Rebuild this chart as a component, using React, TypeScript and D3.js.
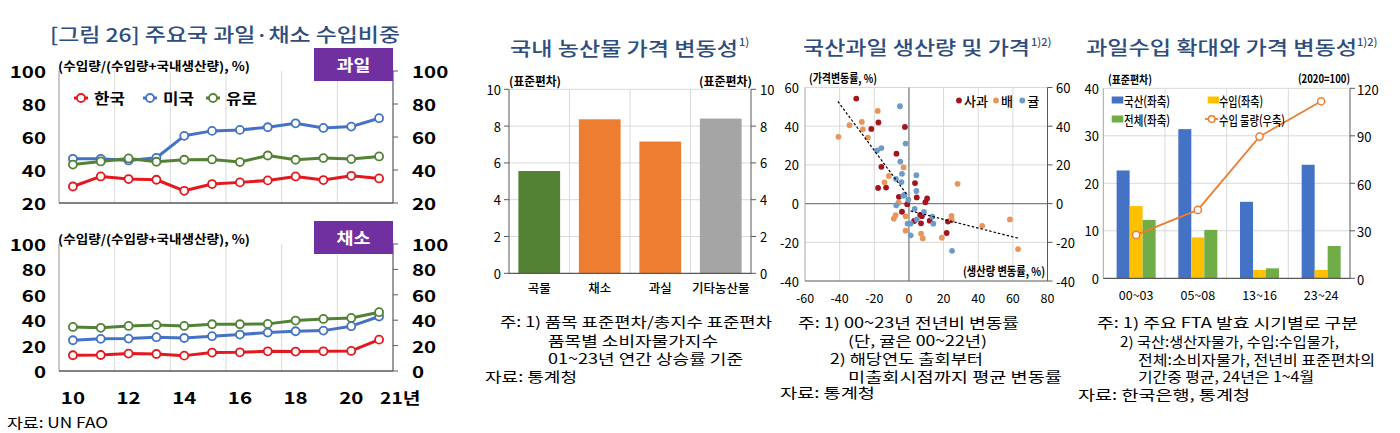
import React from "react";
import * as d3 from "d3";

// ---------- Panel 1 data ----------
const years = ["10", "11", "12", "13", "14", "15", "16", "17", "18", "19", "20", "21"];
const countries = ["한국", "미국", "유로"];
const countryColors = ["#E3191F", "#4472C4", "#548235"];
const fruitKorea = [30, 36.1, 34.5, 34.1, 27.4, 31.5, 32.5, 33.7, 36.1, 33.9, 36.5, 34.9];
const fruitUS = [46.8, 46.8, 45.8, 47.4, 60.7, 63.7, 64.3, 65.9, 68.3, 65.5, 66.3, 71.4];
const fruitEuro = [43.3, 45.2, 47, 45, 46.2, 46.4, 44.8, 48.8, 46.2, 47.2, 46.6, 48.2];
const vegKorea = [12.4, 12.6, 13.7, 13.4, 12.1, 14.5, 14.7, 15.5, 15.3, 15.5, 15.8, 24.7];
const vegUS = [24.2, 25.3, 25.5, 26.6, 26, 27.4, 28.7, 30.3, 31.3, 31.8, 35.3, 42.9];
const vegEuro = [34.7, 34, 35.5, 36.3, 35.5, 36.8, 36.8, 37.1, 39.7, 41, 41.8, 46.3];
const topTicks = [20, 40, 60, 80, 100];
const botTicks = [0, 20, 40, 60, 80, 100];

// ---------- Panel 2 data ----------
const priceCats = ["곡물", "채소", "과실", "기타농산물"];
const priceStd = [5.56, 8.37, 7.16, 8.41];
const priceColors = ["#548235", "#ED7D31", "#ED7D31", "#A5A5A5"];
const stdTicks = [0, 2, 4, 6, 8, 10];

// ---------- Panel 3 data (production change %, price change %) ----------
const appleData: [number, number][] = [
  [-30.4, 54.3], [-17.6, 41.9], [-21.7, 38.6], [-2.3, 39.6], [-7.2, 25.8], [-15.9, 19],
  [-17.8, 8.1], [-13.2, 8.3], [-5.8, 3.5], [3.5, 10.6], [4.5, 3.2], [10.5, 2.7],
  [9.5, 0.7], [-1, -0.3], [-4, -4.2], [7.5, -6.5], [7, -10.2], [3, -9],
  [12, -8.8], [22.5, -9.3], [24.5, -8.5], [21.8, -15.2], [6.5, -5.8],
];
const pearData: [number, number][] = [
  [-40.7, 34.5], [-34.3, 40.5], [-27.2, 42.2], [-26.6, 38.4], [-23.7, 34.1], [-18, 47.9],
  [-11.6, 14.3], [-14.1, 11], [-3.1, 18.7], [-6, 0.5], [-8.7, -7.8], [-7.7, -6],
  [-1.9, -14], [-1.9, -6.6], [7, -15.5], [8, -18], [19, -17.6], [24.6, -6.4],
  [24.6, -8], [28.1, 10.2], [42.3, -11.5], [58.3, -8.2], [63, -23.5],
];
const tangerineData: [number, number][] = [
  [-5.2, 50.3], [-1.9, 31], [-18.4, 27.5], [-15.9, 28.7], [-5, 21.7], [-4, 15.4],
  [-4.3, 11.1], [-7.5, 12.8], [4.3, 14.7], [4.3, 6.5], [-2.5, 4.6], [-3.2, 4],
  [-7.3, -0.9], [-0.4, 2], [-0.8, -10.3], [1, -16.4], [3.3, -2.7], [8.7, -4.3],
  [4.6, -8.2], [13.5, -6.8], [14.1, -10.4], [24.9, -24.4], [1, -10.3],
];
const fruitNames = ["사과", "배", "귤"];
const fruitColors = ["#A3141C", "#E8955A", "#6B9BCB"];
const trendUpper: [number, number][] = [[-41, 52.8], [-1, 4.5]];
const trendLower: [number, number][] = [[1, -3.8], [63.5, -18]];
const scX = [-60, -40, -20, 0, 20, 40, 60, 80];
const scY = [-40, -20, 0, 20, 40, 60];

// ---------- Panel 4 data ----------
const periods = ["00~03", "05~08", "13~16", "23~24"];
const barSeries = ["국산(좌축)", "수입(좌축)", "전체(좌축)"];
const barColors = ["#4472C4", "#FFC000", "#70AD47"];
const domestic = [22.7, 31.4, 16.1, 23.9];
const imported = [15.2, 8.6, 1.75, 1.75];
const total = [12.3, 10.2, 2.1, 6.8];
const importVolume = [27.4, 43.2, 89.5, 111.8];
const leftTicks4 = [0, 10, 20, 30, 40];
const rightTicks4 = [0, 30, 60, 90, 120];

const FF = "'Noto Sans CJK KR', 'Noto Sans', sans-serif";
const GRID = "#D9D9D9";
const AXIS = "#595959";
const TITLE = "#2F4E7E";

function Txt(props: any) {
  const { x, y, size = 13, weight = 400, anchor = "start", fill = "#000", sx = 1, len, children } = props;
  if (len) {
    return (
      <text x={x} y={y} fontSize={size} fontWeight={weight} textAnchor={anchor} fill={fill}
        dominantBaseline="central" textLength={len} lengthAdjust="spacingAndGlyphs" fontFamily={FF}>
        {children}
      </text>
    );
  }
  return (
    <text transform={`translate(${x},${y}) scale(${sx},1)`} fontSize={size} fontWeight={weight}
      textAnchor={anchor} fill={fill} dominantBaseline="central" fontFamily={FF}>
      {children}
    </text>
  );
}

function Panel1() {
  const x1 = d3.scaleBand<string>().domain(years).range([59, 393]);
  const cx = (i: number) => (x1(years[i]) as number) + x1.bandwidth() / 2;
  const yTop = d3.scaleLinear().domain([20, 100]).range([203, 71]);
  const yBot = d3.scaleLinear().domain([0, 100]).range([371, 244]);
  const fruit = [fruitKorea, fruitUS, fruitEuro];
  const veg = [vegKorea, vegUS, vegEuro];

  const chart = (ys: any, series: number[][], ticks: number[], label: string, boxLabel: string) => {
    const [y0, y1] = ys.range();
    const line = d3.line<number>().x((_, i) => cx(i)).y((d) => ys(d));
    return (
      <g>
        {[2, 4, 6, 8, 10].map((i) => (
          <line key={i} x1={x1(years[i])} x2={x1(years[i])} y1={y1} y2={y0} stroke={GRID} strokeWidth={1} />
        ))}
        <line x1={59} x2={59} y1={y1} y2={y0} stroke="#A6A6A6" strokeWidth={1.2} />
        <line x1={393} x2={393} y1={y1} y2={y0} stroke={AXIS} strokeWidth={1.2} />
        <line x1={59} x2={393} y1={y0} y2={y0} stroke={AXIS} strokeWidth={1.5} />
        {ticks.map((t) => (
          <g key={t}>
            <line x1={393} x2={398} y1={ys(t)} y2={ys(t)} stroke={AXIS} />
            <Txt x={46} y={ys(t)} size={16} weight={700} anchor="end" sx={1.28}>{t}</Txt>
            <Txt x={412} y={ys(t)} size={16} weight={700} sx={1.28}>{t}</Txt>
          </g>
        ))}
        <Txt x={58} y={y1 - 6} size={12.5} weight={700} len={192}>{label}</Txt>
        <rect x={314} y={y1 - 23} width={79} height={33} fill="#7030A0" />
        <Txt x={353.5} y={y1 - 6.5} size={16} weight={700} anchor="middle" fill="#fff" sx={1.15}>{boxLabel}</Txt>
        {series.map((s, k) => (
          <g key={k}>
            <path d={line(s) as string} fill="none" stroke={countryColors[k]} strokeWidth={3} strokeLinejoin="round" />
            {s.map((v, i) => (
              <circle key={i} cx={cx(i)} cy={ys(v)} r={4} fill="#fff" stroke={countryColors[k]} strokeWidth={1.8} />
            ))}
          </g>
        ))}
      </g>
    );
  };

  const legendX = [81, 150, 213];
  return (
    <g>
      <Txt x={50} y={33} size={19} weight={500} fill={TITLE} len={350}>[그림 26] 주요국 과일·채소 수입비중</Txt>
      {chart(yTop, fruit, topTicks, "(수입량/(수입량+국내생산량), %)", "과일")}
      {countries.map((c, k) => (
        <g key={c}>
          <line x1={legendX[k] - 7} x2={legendX[k] + 7} y1={98} y2={98} stroke={countryColors[k]} strokeWidth={3} />
          <circle cx={legendX[k]} cy={98} r={4} fill="#fff" stroke={countryColors[k]} strokeWidth={1.8} />
          <Txt x={legendX[k] + 13} y={98} size={15} weight={700} sx={1.12}>{c}</Txt>
        </g>
      ))}
      {chart(yBot, veg, botTicks, "(수입량/(수입량+국내생산량), %)", "채소")}
      {years.map((y, i) =>
        i % 2 === 0 ? (
          <Txt key={y} x={cx(i)} y={397} size={16} weight={700} anchor="middle" sx={1.28}>{y}</Txt>
        ) : null
      )}
      <Txt x={cx(11) + 1} y={397} size={16} weight={700} sx={1.2}>21년</Txt>
      <Txt x={7} y={422} size={14} len={101}>자료: UN FAO</Txt>
    </g>
  );
}

function Panel2() {
  const xg = d3.scaleBand<string>().domain(priceCats).range([509, 751]);
  const xb = d3.scaleBand<string>().domain(priceCats).range([509, 751]).paddingInner(0.31).paddingOuter(0.155);
  const y = d3.scaleLinear().domain([0, 10]).range([273.3, 89.3]);
  return (
    <g>
      <Txt x={510} y={47} size={19} weight={500} fill={TITLE} len={228}>국내 농산물 가격 변동성</Txt>
      <Txt x={739} y={41} size={11} weight={500} fill={TITLE}>1)</Txt>
      {stdTicks.slice(1).map((t) => (
        <line key={t} x1={509} x2={751} y1={y(t)} y2={y(t)} stroke={GRID} />
      ))}
      {priceCats.slice(1).map((c) => (
        <line key={c} x1={xg(c)} x2={xg(c)} y1={y(10)} y2={y(0)} stroke={GRID} />
      ))}
      {priceCats.map((c, i) => (
        <rect key={c} x={xb(c)} y={y(priceStd[i])} width={xb.bandwidth()} height={y(0) - y(priceStd[i])} fill={priceColors[i]} />
      ))}
      <line x1={509} x2={509} y1={y(10)} y2={y(0)} stroke={AXIS} />
      <line x1={751} x2={751} y1={y(10)} y2={y(0)} stroke={AXIS} />
      <line x1={509} x2={751} y1={y(0)} y2={y(0)} stroke={AXIS} strokeWidth={1.3} />
      {stdTicks.map((t) => (
        <g key={t}>
          <line x1={504} x2={509} y1={y(t)} y2={y(t)} stroke={AXIS} />
          <line x1={751} x2={756} y1={y(t)} y2={y(t)} stroke={AXIS} />
          <Txt x={501} y={y(t)} size={13} anchor="end">{t}</Txt>
          <Txt x={760} y={y(t)} size={13}>{t}</Txt>
        </g>
      ))}
      <Txt x={509} y={80} size={12} weight={700} len={52}>(표준편차)</Txt>
      <Txt x={699} y={80} size={12} weight={700} len={53}>(표준편차)</Txt>
      {priceCats.map((c) => (
        <Txt key={c} x={(xg(c) as number) + xg.bandwidth() / 2} y={287} size={12.5} weight={500} anchor="middle">{c}</Txt>
      ))}
      <Txt x={500} y={321} size={14} len={272}>주: 1) 품목 표준편차/총지수 표준편차</Txt>
      <Txt x={548} y={339.5} size={14} len={170}>품목별 소비자물가지수</Txt>
      <Txt x={548} y={357.5} size={14} len={195}>01~23년 연간 상승률 기준</Txt>
      <Txt x={485} y={375.5} size={14} len={92}>자료: 통계청</Txt>
    </g>
  );
}

function Panel3() {
  const x = d3.scaleLinear().domain([-60, 80]).range([805, 1047.5]);
  const y = d3.scaleLinear().domain([-40, 60]).range([281, 87.5]);
  const sets = [appleData, pearData, tangerineData];
  const line = d3.line<[number, number]>().x((d) => x(d[0])).y((d) => y(d[1]));
  const legendDots = [959, 996, 1022.3];
  return (
    <g>
      <Txt x={803} y={46} size={19} weight={500} fill={TITLE} len={227}>국산과일 생산량 및 가격</Txt>
      <Txt x={1031} y={40.5} size={11} weight={500} fill={TITLE}>1)2)</Txt>
      {scX.filter((v) => v !== 0 && v !== -60 && v !== 80).map((v) => (
        <line key={v} x1={x(v)} x2={x(v)} y1={y(60)} y2={y(-40)} stroke={GRID} />
      ))}
      {scY.filter((v) => v !== 0 && v !== -40).map((v) => (
        <line key={v} x1={x(-60)} x2={x(80)} y1={y(v)} y2={y(v)} stroke={GRID} />
      ))}
      <line x1={x(0)} x2={x(0)} y1={y(60)} y2={y(-40)} stroke="#7F7F7F" strokeWidth={1.3} />
      <line x1={x(-60)} x2={x(80)} y1={y(0)} y2={y(0)} stroke="#7F7F7F" strokeWidth={1.3} />
      <line x1={x(-60)} x2={x(-60)} y1={y(60)} y2={y(-40)} stroke="#A6A6A6" />
      <line x1={x(80)} x2={x(80)} y1={y(60)} y2={y(-40)} stroke={AXIS} />
      <line x1={x(-60)} x2={x(80)} y1={y(-40)} y2={y(-40)} stroke={AXIS} />
      {scY.map((v) => (
        <g key={v}>
          <line x1={x(80)} x2={x(80) + 5} y1={y(v)} y2={y(v)} stroke={AXIS} />
          <Txt x={799} y={y(v)} size={13} anchor="end">{v}</Txt>
          <Txt x={1056} y={y(v)} size={13}>{v}</Txt>
        </g>
      ))}
      {scX.map((v) => (
        <Txt key={v} x={x(v)} y={297} size={12.5} anchor="middle">{v}</Txt>
      ))}
      <Txt x={809} y={77} size={12} weight={700} len={68}>(가격변동률, %)</Txt>
      <Txt x={963} y={270} size={12} weight={700} len={82}>(생산량 변동률, %)</Txt>
      {sets.map((s, k) => (
        <g key={k}>
          {s.map((d, i) => (
            <circle key={i} cx={x(d[0])} cy={y(d[1])} r={2.9} fill={fruitColors[k]} />
          ))}
        </g>
      ))}
      <path d={line(trendUpper) as string} stroke="#000" strokeWidth={1.2} strokeDasharray="2.5,2" fill="none" />
      <path d={line(trendLower) as string} stroke="#000" strokeWidth={1.2} strokeDasharray="2.5,2" fill="none" />
      {fruitNames.map((n, k) => (
        <g key={n}>
          <circle cx={legendDots[k]} cy={100.5} r={2.9} fill={fruitColors[k]} />
          <Txt x={legendDots[k] + 5} y={100.5} size={13} weight={500}>{n}</Txt>
        </g>
      ))}
      <Txt x={798} y={321.5} size={14} len={221}>주: 1) 00~23년 전년비 변동률</Txt>
      <Txt x={848} y={340} size={14} len={139}>(단, 귤은 00~22년)</Txt>
      <Txt x={830} y={358} size={14} len={153}>2) 해당연도 출회부터</Txt>
      <Txt x={848} y={375.5} size={14} len={214}>미출회시점까지 평균 변동률</Txt>
      <Txt x={780} y={392} size={14} len={95}>자료: 통계청</Txt>
    </g>
  );
}

function Panel4() {
  const xg = d3.scaleBand<string>().domain(periods).range([1103.3, 1350]);
  const xs = d3.scaleBand<string>().domain(barSeries).range([0, 39]);
  const yL = d3.scaleLinear().domain([0, 40]).range([278.3, 88.3]);
  const yR = d3.scaleLinear().domain([0, 120]).range([278.3, 88.3]);
  const series = [domestic, imported, total];
  const cx = (p: string) => (xg(p) as number) + xg.bandwidth() / 2 + 2;
  const line = d3.line<number>().x((_, i) => cx(periods[i])).y((d) => yR(d));
  return (
    <g>
      <Txt x={1086} y={46.5} size={19} weight={500} fill={TITLE} len={271}>과일수입 확대와 가격 변동성</Txt>
      <Txt x={1357} y={40.5} size={11} weight={500} fill={TITLE}>1)2)</Txt>
      {leftTicks4.slice(1).map((t) => (
        <line key={t} x1={1103.3} x2={1350} y1={yL(t)} y2={yL(t)} stroke={GRID} />
      ))}
      {periods.slice(1).map((p) => (
        <line key={p} x1={xg(p)} x2={xg(p)} y1={yL(40)} y2={yL(0)} stroke={GRID} />
      ))}
      {periods.map((p, i) => (
        <g key={p}>
          {series.map((s, k) => (
            <rect key={k} x={cx(p) - 19.5 + (xs(barSeries[k]) as number)} y={yL(s[i])} width={xs.bandwidth()}
              height={yL(0) - yL(s[i])} fill={barColors[k]} />
          ))}
        </g>
      ))}
      <line x1={1103.3} x2={1103.3} y1={yL(40)} y2={yL(0)} stroke="#A6A6A6" />
      <line x1={1350} x2={1350} y1={yL(40)} y2={yL(0)} stroke={AXIS} />
      <line x1={1103.3} x2={1350} y1={yL(0)} y2={yL(0)} stroke={AXIS} strokeWidth={1.3} />
      {leftTicks4.map((t) => (
        <Txt key={t} x={1099} y={yL(t)} size={13} anchor="end">{t}</Txt>
      ))}
      {rightTicks4.map((t) => (
        <g key={t}>
          <line x1={1350} x2={1355} y1={yR(t)} y2={yR(t)} stroke={AXIS} />
          <Txt x={1357} y={yR(t) + 1} size={13}>{t}</Txt>
        </g>
      ))}
      <path d={line(importVolume) as string} fill="none" stroke="#ED7D31" strokeWidth={1.8} />
      {importVolume.map((v, i) => (
        <circle key={i} cx={cx(periods[i])} cy={yR(v)} r={3.6} fill="#fff" stroke="#ED7D31" strokeWidth={1.5} />
      ))}
      {periods.map((p) => (
        <Txt key={p} x={cx(p)} y={294.5} size={12.5} anchor="middle">{p}</Txt>
      ))}
      <Txt x={1108} y={78.5} size={11.5} weight={700} len={44}>(표준편차)</Txt>
      <Txt x={1298} y={77.5} size={11.5} weight={700} len={52}>(2020=100)</Txt>
      {/* legend */}
      <rect x={1111.7} y={96.5} width={11.6} height={7} fill={barColors[0]} />
      <Txt x={1124} y={100} size={13} weight={500} len={46}>{barSeries[0]}</Txt>
      <rect x={1207.7} y={96.5} width={11.3} height={7} fill={barColors[1]} />
      <Txt x={1219} y={100} size={13} weight={500} len={44}>{barSeries[1]}</Txt>
      <rect x={1111.7} y={115.5} width={11.6} height={7} fill={barColors[2]} />
      <Txt x={1124} y={119} size={13} weight={500} len={46}>{barSeries[2]}</Txt>
      <line x1={1205} x2={1218.3} y1={119} y2={119} stroke="#ED7D31" strokeWidth={1.8} />
      <circle cx={1211.7} cy={119} r={3.3} fill="#fff" stroke="#ED7D31" strokeWidth={1.5} />
      <Txt x={1219} y={119} size={13} weight={500} len={66}>수입 물량(우축)</Txt>
      {/* notes */}
      <Txt x={1097} y={321.5} size={14} len={261}>주: 1) 주요 FTA 발효 시기별로 구분</Txt>
      <Txt x={1120} y={340.5} size={14} len={219}>2) 국산:생산자물가, 수입:수입물가,</Txt>
      <Txt x={1138} y={358.5} size={14} len={237}>전체:소비자물가, 전년비 표준편차의</Txt>
      <Txt x={1138} y={376} size={14} len={176}>기간중 평균, 24년은 1~4월</Txt>
      <Txt x={1078} y={393.5} size={14} len={172}>자료: 한국은행, 통계청</Txt>
    </g>
  );
}

export default function App() {
  return (
    <svg width={1400} height={433} viewBox="0 0 1400 433"
      style={{ position: "absolute", left: 0, top: 0, background: "#fff", display: "block" }}>
      <rect x={0} y={0} width={1400} height={433} fill="#fff" />
      <Panel1 />
      <Panel2 />
      <Panel3 />
      <Panel4 />
    </svg>
  );
}
